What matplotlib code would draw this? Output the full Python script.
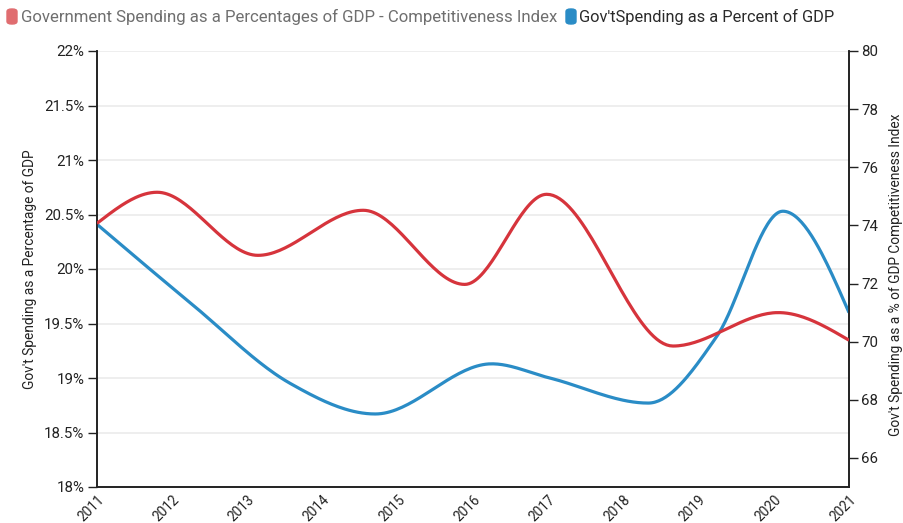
import matplotlib
matplotlib.use("Agg")
import matplotlib.pyplot as plt
from matplotlib.patches import FancyBboxPatch
from matplotlib.ticker import FuncFormatter
import numpy as np

# ==== data (x = fractional year) ====
blue_x = [2011.0, 2012.24, 2013.57, 2014.70, 2016.25, 2017.02, 2018.33, 2019.24, 2020.12, 2021.0]
blue_y = [20.41, 19.69, 18.95, 18.67, 19.13, 19.00, 18.77, 19.38, 20.53, 19.60]   # Gov't spending % of GDP (left)

red_x = [2011.0, 2011.80, 2013.14, 2014.54, 2015.89, 2016.98, 2018.66, 2020.06, 2021.0]
red_y = [74.07, 75.14, 72.97, 74.52, 71.97, 75.07, 69.85, 71.00, 70.05]   # competitiveness index (right)

years = list(range(2011, 2022))
left_ticks = [18, 18.5, 19, 19.5, 20, 20.5, 21, 21.5, 22]
right_ticks = [66, 68, 70, 72, 74, 76, 78, 80]

RED = "#d6343c"
BLUE = "#2a8cc6"


# ==== monotone cubic curve (like d3 curveMonotoneX) ====
def monotone(xs, ys, n=40):
    x = np.asarray(xs, float)
    y = np.asarray(ys, float)
    h = np.diff(x)
    s = np.diff(y) / h
    m = np.zeros(len(x))
    for i in range(1, len(x) - 1):
        p = (s[i - 1] * h[i] + s[i] * h[i - 1]) / (h[i - 1] + h[i])
        m[i] = (np.sign(s[i - 1]) + np.sign(s[i])) * min(abs(s[i - 1]), abs(s[i]), 0.5 * abs(p))
    m[0] = (3 * s[0] - m[1]) / 2
    m[-1] = (3 * s[-1] - m[-2]) / 2
    px, py = [], []
    for i in range(len(x) - 1):
        t = np.linspace(0, 1, n)
        h00 = 2 * t**3 - 3 * t**2 + 1
        h10 = t**3 - 2 * t**2 + t
        h01 = -2 * t**3 + 3 * t**2
        h11 = t**3 - t**2
        px.append(x[i] + t * h[i])
        py.append(h00 * y[i] + h10 * h[i] * m[i] + h01 * y[i + 1] + h11 * h[i] * m[i + 1])
    return np.concatenate(px), np.concatenate(py)


plt.rcParams["font.family"] = ["Roboto", "DejaVu Sans"]

fig = plt.figure(figsize=(9.04, 5.23), dpi=100)
ax = fig.add_axes([97 / 904, 36 / 523, 752 / 904, 436 / 523])
ax2 = ax.twinx()

bx, by = monotone(blue_x, blue_y)
ax.plot(bx, by, color=BLUE, lw=2.3, solid_capstyle="butt", zorder=3)
rx, ry = monotone(red_x, red_y)
ax2.plot(rx, ry, color=RED, lw=2.3, solid_capstyle="butt", zorder=3)

ax.set_xlim(2011, 2021)
ax.set_ylim(18, 22)
ax2.set_ylim(65, 80)
ax.set_xticks(years)
ax.set_xticklabels([str(y) for y in years], rotation=45, ha="right", rotation_mode="anchor")
ax.set_yticks(left_ticks)
ax.yaxis.set_major_formatter(FuncFormatter(lambda v, _: f"{v:g}%"))
ax2.set_yticks(right_ticks)

ax.grid(axis="y", color="#ebebeb", lw=1.2)
ax.set_axisbelow(True)

for a in (ax, ax2):
    a.spines["top"].set_visible(False)
    for sp in ("left", "right", "bottom"):
        a.spines[sp].set_color("#222222")
        a.spines[sp].set_linewidth(1.2)
ax.tick_params(axis="y", length=6.5, width=1, color="#222222", labelsize=10.8, labelcolor="#222222", pad=2.5)
ax2.tick_params(axis="y", length=6.5, width=1, color="#222222", labelsize=10.8, labelcolor="#222222", pad=2.5)
ax.tick_params(axis="x", length=0, labelsize=9.8, labelcolor="#222222", pad=4)

ax.set_ylabel("Gov't Spending as a Percentage of GDP", fontsize=9.9, color="#222222", labelpad=5)
fig.text(896 / 904, 1 - 275 / 523, "Gov't Spending as a % of GDP Competitiveness Index",
         rotation=90, ha="center", va="center", fontsize=9.9, color="#222222")

# ==== legend at the top ====
fig.patches.append(FancyBboxPatch((7 / 904, 1 - 24 / 523), 10 / 904, 15 / 523,
                                  boxstyle="round,pad=0,rounding_size=0.005",
                                  transform=fig.transFigure, color="#e06d70"))
fig.text(21 / 904, 1 - 16.5 / 523, "Government Spending as a Percentages of GDP - Competitiveness Index",
         ha="left", va="center", fontsize=12.1, color="#6f6f6f")
fig.patches.append(FancyBboxPatch((566 / 904, 1 - 24 / 523), 10 / 904, 15 / 523,
                                  boxstyle="round,pad=0,rounding_size=0.005",
                                  transform=fig.transFigure, color=BLUE))
fig.text(579 / 904, 1 - 16.5 / 523, "Gov'tSpending as a Percent of GDP",
         ha="left", va="center", fontsize=11.8, color="#2a2a2a")

fig.savefig("out.png", dpi=100)
